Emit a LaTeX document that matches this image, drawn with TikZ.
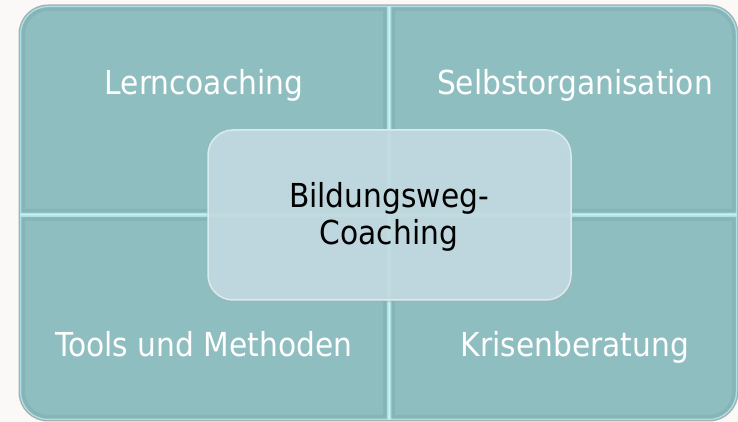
\documentclass[tikz,border=0pt]{standalone}
\usepackage{fontspec}
\setmainfont{DejaVu Sans Condensed}
\definecolor{bgc}{HTML}{FAF9F8}
\definecolor{qmain}{HTML}{8FBEC1}
\definecolor{qdarkc}{HTML}{87B4B7}
\definecolor{qlightc}{HTML}{A8E2E6}
\definecolor{gapc}{HTML}{CDF2F3}
\definecolor{shadowc}{HTML}{A9AEAE}
\definecolor{cfill}{HTML}{C2DAE1}
\definecolor{cedge}{HTML}{D8ECEF}
\tikzset{
  qdark/.style={draw=qdarkc, line width=10pt},
  qlight/.style={draw=qlightc, line width=2.5pt},
  lbl/.style={text=white, anchor=base, inner sep=0pt, font=\fontsize{33}{37}\selectfont},
  centerlbl/.style={text=black, align=center, inner sep=0pt, font=\fontsize{33}{37}\selectfont},
}
\newcommand\drawquadrant[1]{%
  \begin{scope}
    \clip #1;
    \fill[qmain] #1;
    \draw[qdark] #1;
    \draw[qlight] #1;
  \end{scope}}
\begin{document}
\begin{tikzpicture}[x=1pt,y=1pt]
  \fill[bgc] (0,0) rectangle (738,422);
  \useasboundingbox (0,0) rectangle (738,422);
  % outer shadow and gap fill
  \draw[shadowc, line width=3pt, rounded corners=28pt] (20,2) rectangle (737,416);
  \fill[gapc, rounded corners=28pt] (20,2) rectangle (737,416);
  % quadrants
  \drawquadrant{(388,208) -- (20,208) -- (20,388) arc[start angle=180,end angle=90,radius=28] -- (388,416) -- cycle}
  \drawquadrant{(390,208) -- (390,416) -- (709,416) arc[start angle=90,end angle=0,radius=28] -- (737,208) -- cycle}
  \drawquadrant{(388,206) -- (20,206) -- (20,30) arc[start angle=180,end angle=270,radius=28] -- (388,2) -- cycle}
  \drawquadrant{(390,206) -- (390,2) -- (709,2) arc[start angle=270,end angle=360,radius=28] -- (737,206) -- cycle}
  % labels
  \node[lbl] (lern) at (204,327) {Lerncoaching};
  \node[lbl] (selbst) at (575,327) {Selbstorganisation};
  \node[lbl] (tools) at (204,65) {Tools und Methoden};
  \node[lbl] (krise) at (575,65) {Krisenberatung};
  % centre
  \draw[shadowc, opacity=0.5, line width=2.5pt, rounded corners=25pt] (208,121) rectangle (571,291);
  \node[draw=cedge, fill=cfill, fill opacity=0.92, line width=1.5pt, rounded corners=25pt,
        minimum width=363pt, minimum height=170pt] (centre) at (389.5,207) {};
  \node[centerlbl] (centretext) at (389,205) {Bildungsweg-\\Coaching};
\end{tikzpicture}
\end{document}
